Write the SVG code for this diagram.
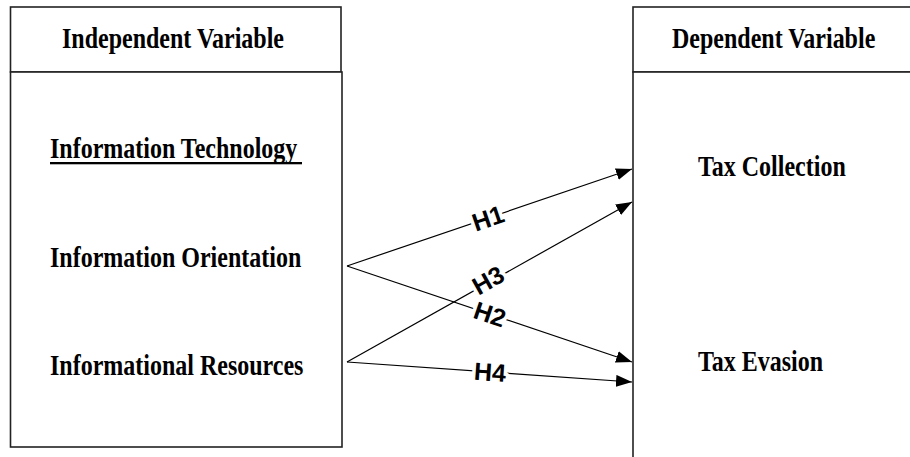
<svg xmlns="http://www.w3.org/2000/svg" width="910" height="457" viewBox="0 0 910 457">
<style>
.box{fill:#fff;stroke:#222;stroke-width:1.6}
.t{font-family:"Liberation Serif","Times New Roman",serif;font-weight:bold;font-size:24px;fill:#000}
.h{font-family:"Liberation Sans",Arial,sans-serif;font-weight:bold;font-size:25px;fill:#000;text-anchor:middle;stroke:#fff;stroke-width:7;paint-order:stroke;stroke-linejoin:round}
.c{stroke:#000;stroke-width:1.2;fill:none;marker-end:url(#ah)}
</style>
<defs>
<marker id="ah" viewBox="0 0 16 12" refX="16" refY="6" markerWidth="16" markerHeight="12" markerUnits="userSpaceOnUse" orient="auto">
<path d="M0,0 L16,6 L0,12 Z" fill="#000"/>
</marker>
</defs>
<rect width="910" height="457" fill="#fff"/>
<g id="independent">
<rect class="box" x="10.5" y="7" width="330.5" height="65"/>
<rect class="box" x="10.5" y="72" width="331.5" height="375"/>
<text class="t" transform="translate(62,48) scale(1,1.25)">Independent Variable</text>
</g>
<g id="info-tech">
<text class="t" transform="translate(50,158) scale(1,1.25)">Information Technology</text>
<rect x="50" y="162" width="252" height="2.3" fill="#000"/>
</g>
<g id="info-orientation">
<text class="t" transform="translate(50,267) scale(1,1.25)">Information Orientation</text>
</g>
<g id="info-resources">
<text class="t" transform="translate(50,375) scale(1,1.25)">Informational Resources</text>
</g>
<g id="dependent">
<rect class="box" x="633" y="7" width="300" height="65"/>
<rect class="box" x="633" y="72" width="300" height="400"/>
<text class="t" transform="translate(672,48) scale(1,1.25)">Dependent Variable</text>
</g>
<g id="tax-collection">
<text class="t" transform="translate(698,176) scale(1,1.25)">Tax Collection</text>
</g>
<g id="tax-evasion">
<text class="t" transform="translate(698,371) scale(1,1.25)">Tax Evasion</text>
</g>
<g id="connectors">
<line class="c" x1="347" y1="266" x2="632" y2="169"/>
<line class="c" x1="347" y1="266" x2="632" y2="362"/>
<line class="c" x1="347" y1="362" x2="632" y2="202"/>
<line class="c" x1="347" y1="362" x2="632" y2="382"/>
<text class="h" transform="translate(488,218) rotate(-18.8)" y="9">H1</text>
<text class="h" transform="translate(488,280) rotate(-29.3)" y="9">H3</text>
<text class="h" transform="translate(490,314) rotate(18.6)" y="9">H2</text>
<text class="h" transform="translate(490,372) rotate(4)" y="9">H4</text>
</g>
</svg>
